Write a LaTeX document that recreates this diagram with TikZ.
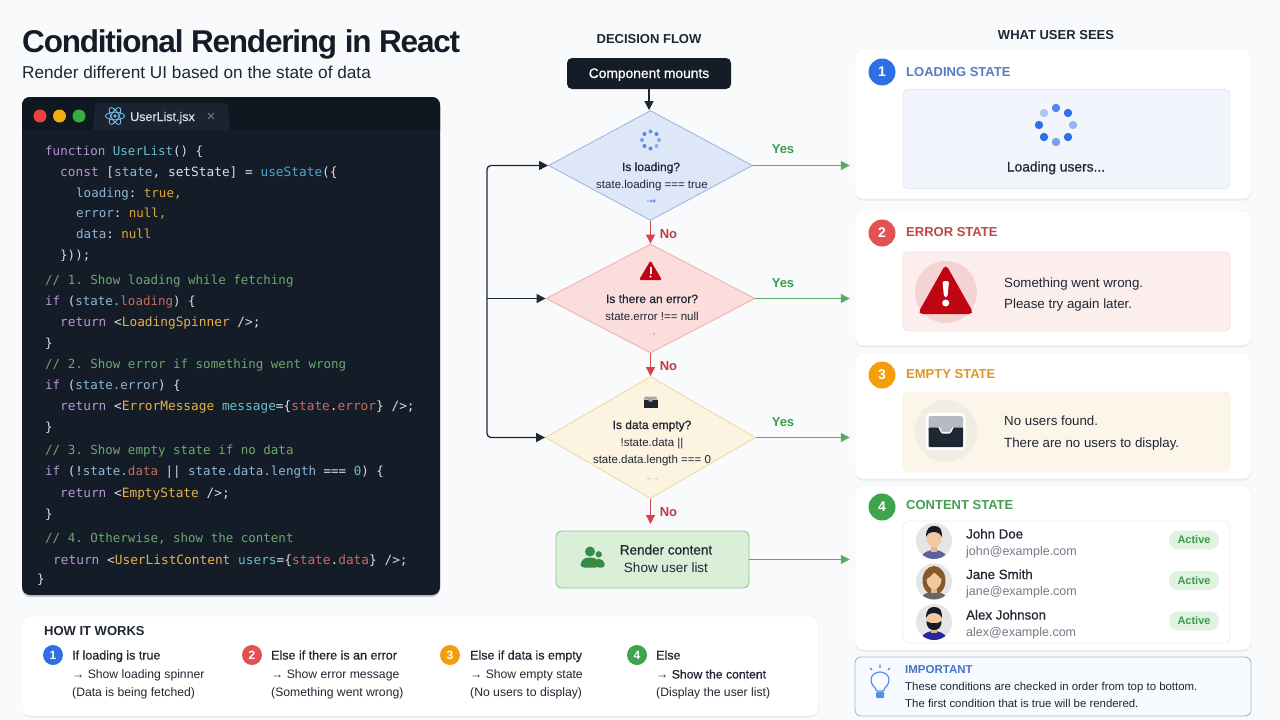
\documentclass[tikz,border=0pt]{standalone}
\usepackage{fontspec}
\setmainfont{Liberation Sans}
\setmonofont{DejaVu Sans Mono}
\newfontfamily\medfont[FakeBold=0.7]{Liberation Sans}
\newfontfamily\titlefont[LetterSpace=-3.8]{Liberation Sans}
\usetikzlibrary{arrows.meta,shapes.geometric,positioning,shadows,calc}
\definecolor{pagebg}{HTML}{F9FAFC}
\definecolor{ink}{HTML}{141C27}
\definecolor{barbg}{HTML}{0F1720}
\definecolor{tabbg}{HTML}{1A232F}
\definecolor{codewh}{HTML}{D9DEE5}
\definecolor{kwc}{HTML}{B796D8}
\definecolor{fnc}{HTML}{66BFCB}
\definecolor{vrc}{HTML}{8FB5D6}
\definecolor{clc}{HTML}{4FA3D8}
\definecolor{ylc}{HTML}{E0A83A}
\definecolor{cmc}{HTML}{6DA86D}
\definecolor{rdc}{HTML}{C96B62}
\definecolor{tgc}{HTML}{E5B04A}
\definecolor{bluec}{HTML}{2F6FE4}
\definecolor{redc}{HTML}{E25252}
\definecolor{orgc}{HTML}{F59E0B}
\definecolor{grnc}{HTML}{3DA34D}
\definecolor{yesc}{HTML}{3E9B4F}
\definecolor{noc}{HTML}{D4444C}
\definecolor{txtdk}{HTML}{1F2733}
\definecolor{txtgr}{HTML}{707A88}
\definecolor{dafill}{HTML}{DDE7F8}
\definecolor{daedge}{HTML}{9FB8E2}
\definecolor{dbfill}{HTML}{FBDEDB}
\definecolor{dbedge}{HTML}{EEB4AD}
\definecolor{dcfill}{HTML}{FDF3E1}
\definecolor{dcedge}{HTML}{EFDAA8}
\definecolor{rbfill}{HTML}{D9EFD8}
\definecolor{rbedge}{HTML}{8CC78F}
\definecolor{iafill}{HTML}{F2F6FC}
\definecolor{iaedge}{HTML}{E3EAF5}
\definecolor{ibfill}{HTML}{FDEEEE}
\definecolor{ibedge}{HTML}{F8DEDE}
\definecolor{icfill}{HTML}{FCF5EA}
\definecolor{icedge}{HTML}{FAEFDF}
\definecolor{ibcirc}{HTML}{F6D3D3}
\definecolor{iccirc}{HTML}{F1ECE4}
\definecolor{pillbg}{HTML}{DFF3E0}
\definecolor{trayc}{HTML}{B5BAC3}
\definecolor{trired}{HTML}{BF0512}
\definecolor{notefill}{HTML}{F7FAFE}
\newcommand{\fsz}[1]{\fontsize{#1}{#1}\selectfont}
\newcommand{\cKw}[1]{\textcolor{kwc}{#1}}
\newcommand{\cFn}[1]{\textcolor{fnc}{#1}}
\newcommand{\cVr}[1]{\textcolor{vrc}{#1}}
\newcommand{\cCl}[1]{\textcolor{clc}{#1}}
\newcommand{\cYl}[1]{\textcolor{ylc}{#1}}
\newcommand{\cCm}[1]{\textcolor{cmc}{#1}}
\newcommand{\cRd}[1]{\textcolor{rdc}{#1}}
\newcommand{\cTg}[1]{\textcolor{tgc}{#1}}
\tikzset{
  txt/.style    = { inner sep=0pt, anchor=base west, text=txtdk },
  ctr/.style    = { inner sep=0pt, anchor=base, text=txtdk },
  code/.style   = { txt, text=codewh, font=\ttfamily\fsz{12.5} },
  codew/.style  = { txt, text=codewh, font=\ttfamily\fsz{12.8} },
  softsh/.style = { drop shadow={shadow xshift=0pt,shadow yshift=-1.5pt,opacity=0.07,fill=black} },
  card/.style   = { draw=black!6, fill=white, rounded corners=8pt, inner sep=0pt, softsh },
  inbox/.style  = { rounded corners=5pt, inner sep=0pt, line width=0.8pt },
  badge/.style  = { circle, inner sep=0pt, minimum size=27pt, text=white, font=\fsz{14}\bfseries },
  mbadge/.style = { circle, inner sep=0pt, minimum size=20pt, text=white, font=\fsz{12}\bfseries },
  head/.style   = { txt, font=\fsz{13}\bfseries },
  cbody/.style  = { txt, font=\fsz{13.3} },
  hbody/.style  = { txt, font=\fsz{12.2} },
  htitle/.style = { txt, font=\medfont\fsz{12.5} },
  dname/.style  = { ctr, font=\medfont\fsz{12} },
  dsub/.style   = { ctr, font=\fsz{11.5} },
  uname/.style  = { txt, font=\medfont\fsz{13.3} },
  umail/.style  = { txt, text=txtgr, font=\fsz{12.5} },
  pill/.style   = { rounded corners=9pt, fill=pillbg, inner sep=0pt,
    minimum width=50pt, minimum height=19pt, text=yesc, font=\bfseries\fsz{11} },
  dmd/.style    = { diamond, inner sep=0pt, line width=0.9pt },
  tiphead/.style = { -{Triangle[length=9pt,width=9pt]} },
  dkln/.style   = { draw=txtdk, line width=1.3pt, tiphead },
  yesln/.style  = { draw=yesc!85, line width=1.3pt, shorten >=5pt, tiphead },
  noln/.style   = { draw=noc, line width=1.3pt, tiphead },
  yeslb/.style  = { ctr, text=yesc, font=\bfseries\fsz{13} },
  nolb/.style   = { ctr, text=noc!90!black, font=\bfseries\fsz{13} }
}
\begin{document}
\begin{tikzpicture}[x=1pt,y=-1pt]
  \useasboundingbox (0,0) rectangle (1280,720);
  \fill[pagebg] (0,0) rectangle (1280,720);
  % title
  \node[txt, text=ink, font=\titlefont\bfseries\fsz{31.5}] (title) at (22,52) {Conditional Rendering in React};
  \node[txt, font=\fsz{17.2}] (subtitle) at (22,78) {Render different UI based on the state of data};
  % code panel
  \node[fill=ink, rounded corners=8pt, inner sep=0pt, minimum width=418pt, minimum height=498pt,
    drop shadow={shadow xshift=0pt,shadow yshift=-2pt,opacity=0.18,fill=black}] (panel) at (231,346) {};
  \fill[barbg] (22,130) [rounded corners=8pt] -- (22,97) -- (440,97) [sharp corners] -- (440,130) -- cycle;
  \fill[tabbg] (93,130) [rounded corners=4pt] -- (95,103) -- (228,103) [sharp corners] -- (230,130) -- cycle;
  \fill[red!20!redc] (40,116) circle (6.5pt);
  \fill[orgc!85!yellow] (59.5,116) circle (6.5pt);
  \fill[grnc!90!green] (79,116) circle (6.5pt);
  \foreach \ang in {0,60,120}
    \draw[clc!80!white, line width=0.9pt, rotate around={\ang:(115,116)}] (115,116) ellipse (9.5pt and 3.8pt);
  \fill[clc!80!white] (115,116) circle (1.8pt);
  \node[txt, text=codewh, font=\medfont\fsz{12.5}] (tabname) at (130,121) {UserList.jsx};
  \node[ctr, text=white!40!tabbg, font=\fsz{15}] (tabx) at (211,121) {×};
  \node[code] (l1) at (45,155) {\cKw{function} \cFn{UserList}() \{};
  \node[codew] (l2) at (60,176) {\cKw{const} [\cVr{state}, setState] = \cCl{useState}(\{};
  \node[code] (l3) at (76,197) {\cVr{loading}: \cYl{true,}};
  \node[code] (l4) at (76,217) {\cVr{error}: \cYl{null,}};
  \node[code] (l5) at (76,238) {\cVr{data}: \cYl{null}};
  \node[code] (l6) at (60,259) {\}));};
  \node[code] (l7) at (45,284) {\cCm{// 1. Show loading while fetching}};
  \node[code] (l8) at (45,305) {\cKw{if} (\cVr{state.}\cRd{loading}) \{};
  \node[codew] (l9) at (60,326) {\cKw{return} <\cTg{LoadingSpinner} />;};
  \node[code] (l10) at (45,347) {\}};
  \node[code] (l11) at (45,368) {\cCm{// 2. Show error if something went wrong}};
  \node[code] (l12) at (45,389) {\cKw{if} (\cVr{state.error}) \{};
  \node[codew] (l13) at (60,410) {\cKw{return} <\cTg{ErrorMessage} \cFn{message}=\{\cRd{state}.\cRd{error}\} />;};
  \node[code] (l14) at (45,431) {\}};
  \node[code] (l15) at (45,454) {\cCm{// 3. Show empty state if no data}};
  \node[code] (l16) at (45,475) {\cKw{if} (!\cVr{state.}\cRd{data} || \cVr{state.data.length} === \cFn{0}) \{};
  \node[codew] (l17) at (60,497) {\cKw{return} <\cTg{EmptyState} />;};
  \node[code] (l18) at (45,518) {\}};
  \node[code] (l19) at (45,542) {\cCm{// 4. Otherwise, show the content}};
  \node[codew] (l20) at (53,564) {\cKw{return} <\cTg{UserListContent} \cFn{users}=\{\cRd{state}.\cRd{data}\} />;};
  \node[code] (l21) at (37,583) {\}};
  % how it works
  \node[card, minimum width=796pt, minimum height=100pt] (how) at (420,666) {};
  \node[txt, font=\bfseries\fsz{13}] (howt) at (44,635) {HOW IT WORKS};
  \node[mbadge, fill=bluec] (h1) at (53,655) {1};
  \node[htitle] (h1a) at (72,659.5) {If loading is true};
  \node[hbody] (h1b) at (72,678.5) {→ Show loading spinner};
  \node[hbody] (h1c) at (72,696.5) {(Data is being fetched)};
  \node[mbadge, fill=redc] (h2) at (252,655) {2};
  \node[htitle] (h2a) at (271,659.5) {Else if there is an error};
  \node[hbody] (h2b) at (271,678.5) {→ Show error message};
  \node[hbody] (h2c) at (271,696.5) {(Something went wrong)};
  \node[mbadge, fill=orgc] (h3) at (450,655) {3};
  \node[htitle] (h3a) at (470,659.5) {Else if data is empty};
  \node[hbody] (h3b) at (470,678.5) {→ Show empty state};
  \node[hbody] (h3c) at (470,696.5) {(No users to display)};
  \node[mbadge, fill=grnc] (h4) at (637,655) {4};
  \node[htitle] (h4a) at (656,659.5) {Else};
  \node[hbody] (h4b) at (656,678.5) {→ \medfont Show the content};
  \node[hbody] (h4c) at (656,696.5) {(Display the user list)};
  % cards on the right
  \node[ctr, font=\bfseries\fsz{13}] (seest) at (1056,39) {WHAT USER SEES};
  \node[card, minimum width=396pt, minimum height=150pt] (cLoad) at (1053,124) {};
  \node[card, minimum width=396pt, minimum height=135pt] (cErr) at (1053,278) {};
  \node[card, minimum width=396pt, minimum height=126pt] (cEmpty) at (1053,416) {};
  \node[card, minimum width=396pt, minimum height=164pt] (cData) at (1053,568) {};
  % decision flow
  \node[ctr, font=\bfseries\fsz{13}] (flowt) at (649,43) {DECISION FLOW};
  \node[fill=ink, rounded corners=5pt, inner sep=0pt, minimum width=164pt, minimum height=31pt,
    text=white, text height=9pt, text depth=0pt, font=\medfont\fsz{13.8}] (mount) at (649,73.5) {Component mounts};
  \node[dmd, draw=daedge, fill=dafill, minimum width=204pt, minimum height=110pt] (dLoad) at (650.5,165.5) {};
  \node[dmd, draw=dbedge, fill=dbfill, minimum width=209pt, minimum height=109pt] (dErr) at (650.5,298.5) {};
  \node[dmd, draw=dcedge, fill=dcfill, minimum width=210pt, minimum height=122pt] (dEmpty) at (650.5,437.5) {};
  \node[fill=rbfill, draw=rbedge, rounded corners=6pt, line width=0.9pt,
    inner sep=0pt, minimum width=193pt, minimum height=57pt] (rBox) at (652.5,559.5) {};
  % bus on the left
  \coordinate (busM) at (487,298.5);
  \coordinate (noEnd) at (650.5,524);
  \draw[dkln] (mount) -- (mount |- dLoad.north);
  \draw[dkln, rounded corners=4pt] (busM) |- (dLoad.west);
  \draw[dkln] (busM) -- (dErr.west);
  \draw[dkln, rounded corners=4pt] (busM) |- (dEmpty.west);
  \draw[noln] (dLoad) -- (dErr);
  \draw[noln] (dErr) -- (dEmpty);
  \draw[noln] (dEmpty) -- (noEnd);
  \draw[yesln] (dLoad.east) -- (dLoad.east -| cLoad.west);
  \draw[yesln] (dErr.east) -- (dErr.east -| cLoad.west);
  \draw[yesln] (dEmpty.east) -- (dEmpty.east -| cLoad.west);
  \draw[yesln] (rBox.east) -- (rBox.east -| cLoad.west);
  \node[yeslb] (y1) at (783,153) {Yes};
  \node[yeslb] (y2) at (783,287) {Yes};
  \node[yeslb] (y3) at (783,426) {Yes};
  \node[nolb] (n1) at (668.5,238) {No};
  \node[nolb] (n2) at (668.5,370) {No};
  \node[nolb] (n3) at (668.5,516) {No};
  % inside the diamonds
  \foreach \ang/\shd in {0/60,45/85,90/75,135/85,180/65,225/85,270/85,315/55}
    \fill[bluec!\shd!white] ($(650.5,140)+(\ang:8.5pt)$) circle (2pt);
  \node[dname] (d1a) at (651,171) {Is loading?};
  \node[dsub] (d1b) at (652,188) {state.loading === true};
  \fill[bluec!70!white] (648,201) circle (0.8pt) (651,201) circle (1.4pt) (654,201) circle (1.8pt);
  \fill[trired, rounded corners=1.5pt] (650.5,260.5) -- (662,280) -- (639,280) -- cycle;
  \fill[white] (649.5,266.5) rectangle (651.5,274);
  \fill[white] (650.5,276.5) circle (1.2pt);
  \node[dname] (d2a) at (652,303) {Is there an error?};
  \node[dsub] (d2b) at (652,320) {state.error !== null};
  \fill[gray!60] (650,334) circle (0.7pt) (654,334) circle (1.1pt);
  \fill[txtdk] (643.5,399.5) -- (657.5,399.5) -- (657.5,407.5) -- (643.5,407.5) -- cycle;
  \fill[gray!70] (645,396.5) -- (656,396.5) -- (657.5,399.5) -- (653,399.5) -- (652,401.5) -- (649,401.5) -- (648,399.5) -- (643.5,399.5) -- cycle;
  \node[dname] (d3a) at (652,429) {Is data empty?};
  \node[dsub] (d3b) at (652,446) {!state.data ||};
  \node[dsub] (d3c) at (652,463) {state.data.length === 0};
  \fill[gray!70] (647,478.5) rectangle (651,479.2) (655,478.5) rectangle (658,479.2);
  % people icon
  \fill[yesc!90!black] (590,551.5) circle (5pt);
  \fill[yesc!90!black] (598.7,554.3) circle (3.2pt);
  \fill[yesc!90!black, rounded corners=3pt] (604.8,567.5) -- (604.8,562) -- (600,558.5) -- (596,559) -- (596,567.5) -- cycle;
  \fill[yesc!90!black, rounded corners=3.5pt] (580.5,567.5) -- (580.5,562) -- (585,557.5) -- (595,557.5) -- (599.5,562) -- (599.5,567.5) -- cycle;
  \node[ctr, font=\medfont\fsz{13.5}] (r1) at (666,554.5) {Render content};
  \node[ctr, font=\fsz{13.5}] (r2) at (666,572.5) {Show user list};
  % loading card
  \node[badge, fill=bluec] (b1) at (882,72) {1};
  \node[head, text=bluec!65!gray!95] (t1) at (906,76.5) {LOADING STATE};
  \node[inbox, draw=iaedge, fill=iafill, minimum width=327pt, minimum height=99pt] (i1) at (1066.5,139) {};
  \foreach \ang/\shd in {90/85,45/100,0/50,-45/100,-90/65,-135/100,180/100,135/40}
    \fill[bluec!\shd!white] ($(1056,125)+(\ang:17pt)$) circle (4.2pt);
  \node[ctr, font=\medfont\fsz{13.8}] (i1t) at (1056,171.5) {Loading users...};
  % error card
  \node[badge, fill=redc] (b2) at (882,233) {2};
  \node[head, text=redc!85!black] (t2) at (906,236.5) {ERROR STATE};
  \node[inbox, draw=ibedge, fill=ibfill, minimum width=327pt, minimum height=79pt] (i2) at (1066.5,291.5) {};
  \fill[ibcirc] (946,292) circle (31pt);
  \fill[trired, rounded corners=5pt] (945.7,264) -- (974,314) -- (917.5,314) -- cycle;
  \fill[white, rounded corners=1.5pt] (942.5,281) -- (949,281) -- (947.5,297) -- (944,297) -- cycle;
  \fill[white] (945.7,303) circle (3.5pt);
  \node[cbody] (i2a) at (1004,287.5) {Something went wrong.};
  \node[cbody] (i2b) at (1004,308.5) {Please try again later.};
  % empty card
  \node[badge, fill=orgc] (b3) at (882,375) {3};
  \node[head, text=orgc!80!gray] (t3) at (906,378.5) {EMPTY STATE};
  \node[inbox, draw=icedge, fill=icfill, minimum width=327pt, minimum height=79pt] (i3) at (1066.5,431.5) {};
  \fill[iccirc] (946,431) circle (31pt);
  \fill[white, rounded corners=4pt] (926,413) rectangle (965.5,450);
  \fill[trayc, rounded corners=2pt] (928.5,416) rectangle (963,432);
  \fill[txtdk, rounded corners=1pt] (928.5,427.5) -- (939,427.5) -- (942,433) -- (950,433) -- (953,427.5) -- (963,427.5) -- (963,447) -- (928.5,447) -- cycle;
  \draw[white, line width=1.2pt, rounded corners=1pt] (939,427.5) -- (942,433) -- (950,433) -- (953,427.5);
  \node[cbody] (i3a) at (1004,425.5) {No users found.};
  \node[cbody] (i3b) at (1004,447.5) {There are no users to display.};
  % content card
  \node[badge, fill=grnc] (b4) at (882,507) {4};
  \node[head, text=grnc!90!gray] (t4) at (906,509.5) {CONTENT STATE};
  \node[inbox, draw=black!7, fill=white, minimum width=327pt, minimum height=122pt] (i4) at (1066.5,582) {};
  \begin{scope}[shift={(934,541)}]
    \fill[black!10] (0,0) circle (18pt);
    \clip (0,0) circle (18pt);
    \fill[gray!75!blue] (0,22) ellipse (15pt and 13pt);
    \fill[orange!40!white!90!black] (-3,5) rectangle (3,11);
    \fill[orange!35!white!95!black] (0,-3) ellipse (7.5pt and 9.5pt);
    \fill[ink] (-8,-4) .. controls (-8,-13) and (-4,-15) .. (0,-15) .. controls (6,-15) and (8,-12) .. (8,-4) .. controls (6,-8) and (3,-9) .. (-1,-9) .. controls (-4,-9) and (-6,-8) .. (-8,-4) -- cycle;
  \end{scope}
  \begin{scope}[shift={(934,581.5)}]
    \fill[black!10] (0,0) circle (18pt);
    \clip (0,0) circle (18pt);
    \fill[brown!70!black] (0,-1) ellipse (11.5pt and 14.5pt);
    \fill[gray!80!black] (0,22) ellipse (15pt and 12pt);
    \fill[orange!40!white!90!black] (-3,5) rectangle (3,11);
    \fill[orange!35!white!95!black] (0,-2) ellipse (7.5pt and 9.5pt);
    \fill[brown!70!black] (-8,-2) .. controls (-7,-12) and (-3,-13) .. (1,-13) .. controls (6,-13) and (8,-8) .. (8,-2) .. controls (5,-5) and (2,-8) .. (0,-9) .. controls (-2,-6) and (-5,-4) .. (-8,-2) -- cycle;
  \end{scope}
  \begin{scope}[shift={(934,622)}]
    \fill[black!10] (0,0) circle (18pt);
    \clip (0,0) circle (18pt);
    \fill[blue!55!black!85] (0,22) ellipse (15pt and 13pt);
    \fill[orange!40!white!90!black] (-3,5) rectangle (3,11);
    \fill[orange!35!white!95!black] (0,-3) ellipse (7.5pt and 9.5pt);
    \fill[ink] (-7.5,-1) -- (-3.5,1) -- (3.5,1) -- (7.5,-1) .. controls (7.5,6) and (4,8) .. (0,8) .. controls (-4,8) and (-7.5,6) .. (-7.5,-1) -- cycle;
    \fill[ink] (-8,-4) .. controls (-8,-13) and (-4,-15) .. (0,-15) .. controls (6,-15) and (8,-12) .. (8,-4) .. controls (6,-8) and (3,-9) .. (-1,-9) .. controls (-4,-9) and (-6,-8) .. (-8,-4) -- cycle;
  \end{scope}
  \node[uname] (u1) at (966,538.5) {John Doe};
  \node[umail] (m1) at (966,555.5) {john@example.com};
  \node[pill] (p1) at (1194,540) {Active};
  \node[uname] (u2) at (966,579) {Jane Smith};
  \node[umail] (m2) at (966,595.5) {jane@example.com};
  \node[pill] (p2) at (1194,580.5) {Active};
  \node[uname] (u3) at (966,619.5) {Alex Johnson};
  \node[umail] (m3) at (966,636.5) {alex@example.com};
  \node[pill] (p3) at (1194,621) {Active};
  % important box
  \node[draw=bluec!35!gray!55, fill=notefill, rounded corners=6pt, line width=0.9pt, inner sep=0pt,
    minimum width=396pt, minimum height=59pt] (note) at (1053,686.5) {};
  \draw[bluec!80!white, line width=1.2pt] (876.5,691) .. controls (876,687) and (871,686) .. (871,680)
    .. controls (871,675) and (875,672) .. (880,672) .. controls (885,672) and (889,675) .. (889,680)
    .. controls (889,686) and (884,687) .. (883.5,691) -- cycle;
  \fill[bluec!80!white, rounded corners=1pt] (876,692) rectangle (884,698);
  \draw[bluec!80!white, line width=1.3pt, line cap=round] (880,665) -- (880,668) (870,668) -- (872,670) (890,668) -- (888,670);
  \node[txt, text=bluec!75!gray, font=\bfseries\fsz{11.5}] (nt) at (905,673) {IMPORTANT};
  \node[txt, font=\fsz{11.4}] (na) at (905,690) {These conditions are checked in order from top to bottom.};
  \node[txt, font=\fsz{11.4}] (nb) at (905,707) {The first condition that is true will be rendered.};
\end{tikzpicture}
\end{document}
